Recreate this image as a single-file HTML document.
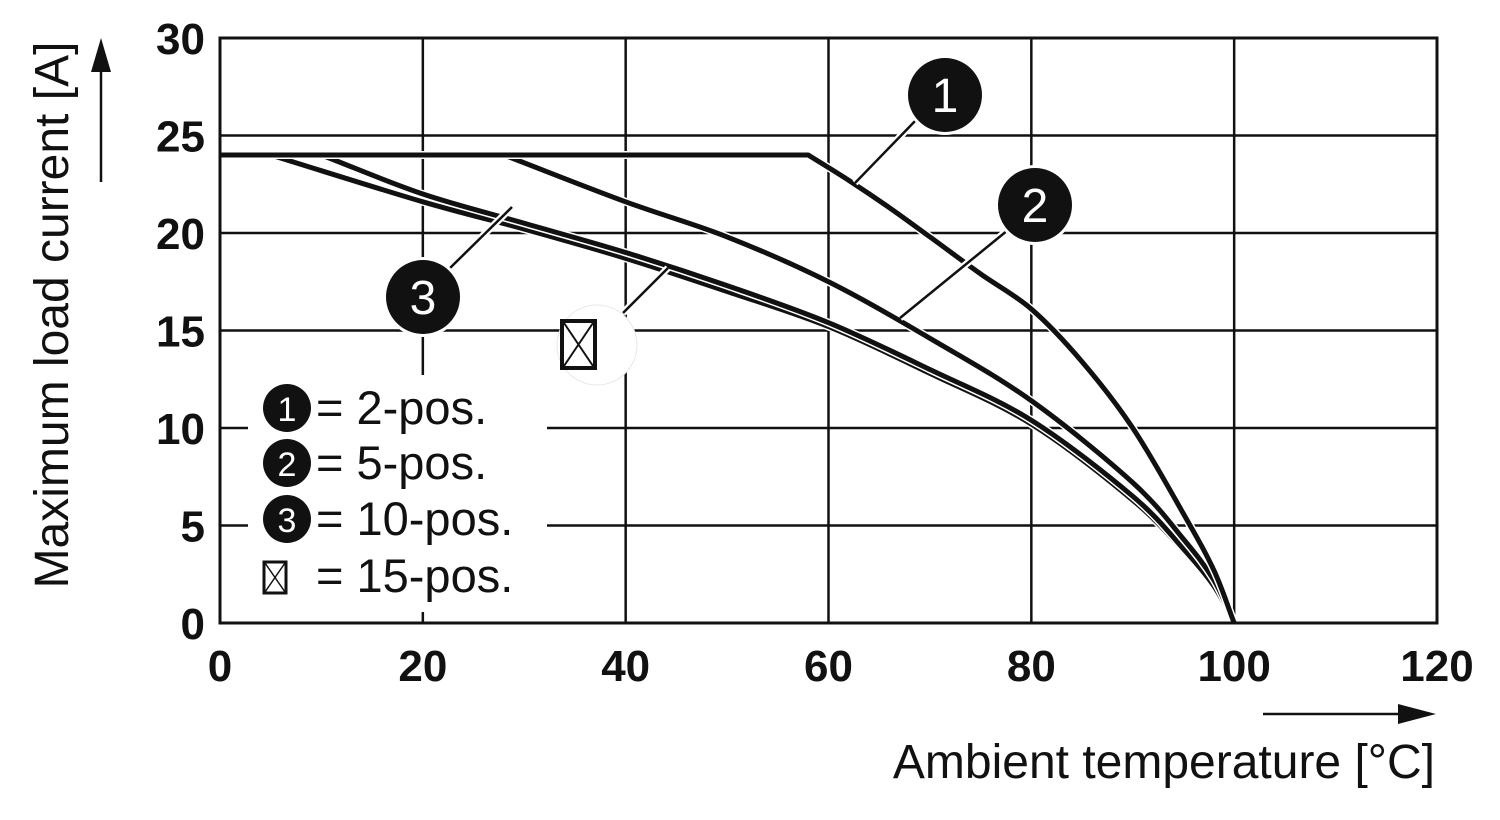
<!DOCTYPE html>
<html><head><meta charset="utf-8"><style>
body{margin:0;background:#fff}
svg{display:block;font-family:"Liberation Sans",sans-serif}
</style></head><body>
<svg width="1500" height="820" viewBox="0 0 1500 820" id="chart">
<g id="grid"></g>
<g id="curves"></g>
<g id="ticks"></g>
<rect x="220" y="38" width="1217" height="585" fill="none" stroke="#111" stroke-width="3"/>
<g stroke-linecap="butt">
 <line x1="855" y1="183" x2="918" y2="118" stroke="#fff" stroke-width="7"/><line x1="855" y1="183" x2="918" y2="118" stroke="#111" stroke-width="2.5"/>
 <circle cx="945" cy="95" r="40" fill="#fff"/><circle cx="945" cy="95" r="37" fill="#111"/>
 <text x="945" y="112" font-size="48" fill="#fff" text-anchor="middle">1</text>
 <line x1="900" y1="318" x2="1008" y2="230" stroke="#fff" stroke-width="7"/><line x1="900" y1="318" x2="1008" y2="230" stroke="#111" stroke-width="2.5"/>
 <circle cx="1035" cy="205" r="40" fill="#fff"/><circle cx="1035" cy="205" r="37" fill="#111"/>
 <text x="1035" y="222" font-size="48" fill="#fff" text-anchor="middle">2</text>
 <line x1="512" y1="207" x2="448" y2="270" stroke="#fff" stroke-width="7"/><line x1="512" y1="207" x2="448" y2="270" stroke="#111" stroke-width="2.5"/>
 <circle cx="423" cy="297" r="40" fill="#fff"/><circle cx="423" cy="297" r="37" fill="#111"/>
 <text x="423" y="314" font-size="48" fill="#fff" text-anchor="middle">3</text>
 <line x1="668" y1="268" x2="623" y2="313" stroke="#fff" stroke-width="7"/><line x1="668" y1="268" x2="623" y2="313" stroke="#111" stroke-width="2.5"/>
 <circle cx="597" cy="345" r="40" fill="#fff" stroke="#e8e8e8" stroke-width="1"/>
 <g>
 <rect x="562" y="321" width="33" height="47" fill="#fff" stroke="#111" stroke-width="4"/>
 <line x1="564" y1="323" x2="593" y2="366" stroke="#111" stroke-width="2"/><line x1="593" y1="323" x2="564" y2="366" stroke="#111" stroke-width="2"/></g>
</g>
<g>
 <rect x="248" y="375" width="299" height="237" fill="#fff"/>
 <g><circle cx="287" cy="408" r="24" fill="#111"/><text x="287" y="421" font-size="34" fill="#fff" text-anchor="middle">1</text><text x="316" y="424" font-size="47" fill="#111">= 2-pos.</text></g>
 <g><circle cx="287" cy="463" r="24" fill="#111"/><text x="287" y="476" font-size="34" fill="#fff" text-anchor="middle">2</text><text x="316" y="479" font-size="47" fill="#111">= 5-pos.</text></g>
 <g><circle cx="287" cy="519" r="24" fill="#111"/><text x="287" y="532" font-size="34" fill="#fff" text-anchor="middle">3</text><text x="316" y="535" font-size="47" fill="#111">= 10-pos.</text></g>
 <g><rect x="264" y="562" width="22" height="31" fill="#fff" stroke="#111" stroke-width="3"/><line x1="265" y1="563" x2="285" y2="592" stroke="#111" stroke-width="1.5"/><line x1="285" y1="563" x2="265" y2="592" stroke="#111" stroke-width="1.5"/><text x="316" y="592" font-size="47" fill="#111">= 15-pos.</text></g>
</g>
<text transform="translate(68,315) rotate(-90)" font-size="48" text-anchor="middle" fill="#111">Maximum load current [A]</text>
<g><line x1="101" y1="182" x2="101" y2="62" stroke="#111" stroke-width="2.5"/><polygon points="101,38 91,72 111,72" fill="#111"/></g>
<text x="1435" y="778" font-size="48" text-anchor="end" fill="#111">Ambient temperature [°C]</text>
<g><line x1="1263" y1="714" x2="1405" y2="714" stroke="#111" stroke-width="2.5"/><polygon points="1436,714 1398,704 1398,724" fill="#111"/></g>
</svg>
<script>
const xTicks=[0,20,40,60,80,100,120];
const yTicks=[0,5,10,15,20,25,30];
const temp2pos=[0,58,62,66,70,75,80,85,90,95,98,100];
const cur2pos=[24,24,22.7,21.3,19.8,17.9,16.1,13.4,10.0,5.6,2.7,0];
const temp5pos=[0,28,40,50,60,70,80,90,95,98,100];
const cur5pos=[24,24,21.6,19.8,17.5,14.6,11.4,7.2,4.3,2.2,0];
const temp10pos=[0,10,20,30,40,50,60,70,80,90,95,98,100];
const cur10pos=[24,24,22.0,20.5,19.0,17.3,15.4,13.0,10.4,6.5,3.8,1.9,0];
const temp15pos=[0,5,20,30,40,50,60,70,80,90,95,98,100];
const cur15pos=[24,24,21.6,20.2,18.7,17.0,15.2,12.8,10.2,6.3,3.7,1.8,0];
const X=v=>220+v*(1437-220)/120;
const Y=v=>623-v*(623-38)/30;
const NS="http://www.w3.org/2000/svg";
const grid=document.getElementById('grid'),ticks=document.getElementById('ticks'),curves=document.getElementById('curves');
function mk(tag,attrs,parent){const e=document.createElementNS(NS,tag);for(const k in attrs)e.setAttribute(k,attrs[k]);parent.appendChild(e);return e;}
xTicks.forEach(t=>{
 const l=mk('line',{x1:X(t),x2:X(t),y1:38,y2:623,stroke:'#111','stroke-width':2.5},grid);
 
 
 const tx=mk('text',{x:X(t),y:681,'font-size':44,'font-weight':'bold','text-anchor':'middle',fill:'#111'},ticks);
 tx.textContent=t;
 
 
});
yTicks.forEach(t=>{
 const l=mk('line',{x1:220,x2:1437,y1:Y(t),y2:Y(t),stroke:'#111','stroke-width':2.5},grid);
 
 
 const tx=mk('text',{x:205,y:Y(t)+16,'font-size':44,'font-weight':'bold','text-anchor':'end',fill:'#111'},ticks);
 tx.textContent=t;
 
 
});
function path(ts,cs){
 const p=ts.map((t,i)=>[X(t),Y(cs[i])]);
 const n=p.length;
 // tangents
 const m=p.map((q,i)=>{
  if(i===0||i===n-1) return null;
  if(cs[i-1]===cs[i]) return [(p[i+1][0]-p[i][0]),(p[i+1][1]-p[i][1])];
  return [(p[i+1][0]-p[i-1][0])/2,(p[i+1][1]-p[i-1][1])/2];
 });
 let d='M'+p[0][0]+','+p[0][1];
 for(let i=1;i<n;i++){
  const p1=p[i-1],p2=p[i];
  if(cs[i-1]===cs[i]){d+=' L'+p2[0]+','+p2[1];continue;}
  const t1=m[i-1]||[p2[0]-p1[0],p2[1]-p1[1]];
  const t2=m[i]||[p2[0]-p1[0],p2[1]-p1[1]];
  const c1=[p1[0]+t1[0]/3,p1[1]+t1[1]/3];
  const c2=[p2[0]-t2[0]/3,p2[1]-t2[1]/3];
  d+=' C'+c1+' '+c2+' '+p2;
 }
 return d;
}
[[temp15pos,cur15pos,'curve-15pos'],[temp10pos,cur10pos,'curve-10pos'],[temp5pos,cur5pos,'curve-5pos'],[temp2pos,cur2pos,'curve-2pos']].forEach(s=>{
 mk('path',{d:path(s[0],s[1]),fill:'none',stroke:'#fff','stroke-width':8,'stroke-linejoin':'round'},curves);
 const e=mk('path',{d:path(s[0],s[1]),fill:'none',stroke:'#111','stroke-width':5,'stroke-linejoin':'round'},curves);
 
 
});
</script>
</body></html>
